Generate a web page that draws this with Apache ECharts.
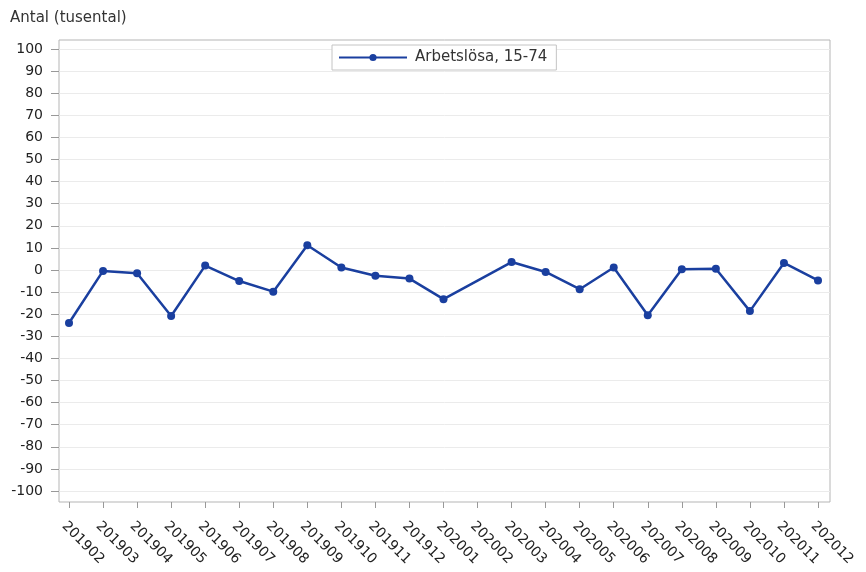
<!DOCTYPE html>
<html style="height: 100%">
<head>
    <meta charset="utf-8">
    <title>Arbetslösa</title>
    <script src="https://cdn.jsdelivr.net/npm/echarts/dist/echarts.min.js"></script>
</head>
<body style="height: 100%; margin: 0">
    <div id="main" style="width: 866px; height: 572px"></div>
    <script type="text/javascript">
        // månader (x-axel)
        var months = ['201902', '201903', '201904', '201905', '201906', '201907', '201908',
            '201909', '201910', '201911', '201912', '202001', '202002', '202003', '202004',
            '202005', '202006', '202007', '202008', '202009', '202010', '202011', '202012'];

        // förändring, tusental (202002 saknas)
        var arbetslosa = [-24, -0.4, -1.5, -20.8, 2.0, -5.0, -9.8, 11.2, 1.1, -2.6, -3.9, -13.2,
            null, 3.6, -0.9, -8.7, 1.1, -20.5, 0.3, 0.6, -18.6, 3.2, -4.7];

        // y-axelns steg
        var yTicks = [-100, -90, -80, -70, -60, -50, -40, -30, -20, -10, 0,
            10, 20, 30, 40, 50, 60, 70, 80, 90, 100];

        var seriesName = 'Arbetslösa, 15-74';
        var font = 'DejaVu Sans, sans-serif';

        var myChart = echarts.init(document.getElementById('main'));

        var option = {
            backgroundColor: '#fff',
            textStyle: { fontFamily: font },
            title: {
                text: 'Antal (tusental)',
                left: 5,
                top: 6,
                textStyle: { fontSize: 15, fontWeight: 'normal', color: '#333', fontFamily: font }
            },
            legend: {
                top: 45,
                left: 332,
                padding: [5, 9, 5, 6],
                borderColor: '#c4c4c4',
                borderWidth: 1,
                backgroundColor: '#fff',
                itemWidth: 68,
                itemHeight: 9,
                itemGap: 6,
                textStyle: { fontSize: 15, color: '#333', fontFamily: font, padding: [0, 0, 0, 3] },
                data: [seriesName]
            },
            grid: [
                // ram
                { left: 59, right: 36, top: 40, bottom: 70, show: true, borderColor: '#b5b5b5', borderWidth: 1 },
                // dataområde
                { left: 69, right: 48, top: 49, bottom: 81 }
            ],
            xAxis: [
                { gridIndex: 0, type: 'value', show: false, min: 0, max: 1 },
                {
                    gridIndex: 1,
                    type: 'category',
                    data: months,
                    boundaryGap: false,
                    offset: 11,
                    axisLine: { show: false, onZero: false },
                    axisTick: { show: true, length: 6, lineStyle: { color: '#999' } },
                    axisLabel: {
                        rotate: -45,
                        interval: 0,
                        margin: 17,
                        verticalAlign: 'top',
                        fontSize: 14,
                        color: '#222',
                        fontFamily: font
                    },
                    splitLine: { show: false }
                }
            ],
            yAxis: [
                {
                    gridIndex: 0,
                    type: 'value',
                    min: -104.98,
                    max: 104.07,
                    axisLine: { show: false },
                    axisTick: { show: true, length: 8, customValues: yTicks, lineStyle: { color: '#999' } },
                    axisLabel: { customValues: yTicks, margin: 16, fontSize: 14, color: '#222', fontFamily: font },
                    splitLine: { show: true, lineStyle: { color: '#ebebeb', width: 1 } }
                },
                {
                    gridIndex: 1,
                    type: 'value',
                    min: -100,
                    max: 100,
                    interval: 10,
                    show: false
                }
            ],
            series: [
                {
                    name: seriesName,
                    type: 'line',
                    xAxisIndex: 1,
                    yAxisIndex: 1,
                    data: arbetslosa,
                    connectNulls: true,
                    symbol: 'circle',
                    symbolSize: 8,
                    itemStyle: { color: '#1a3f9f' },
                    lineStyle: { color: '#1a3f9f', width: 2.5 },
                    animation: false
                }
            ]
        };

        myChart.setOption(option);
    </script>
</body>
</html>
